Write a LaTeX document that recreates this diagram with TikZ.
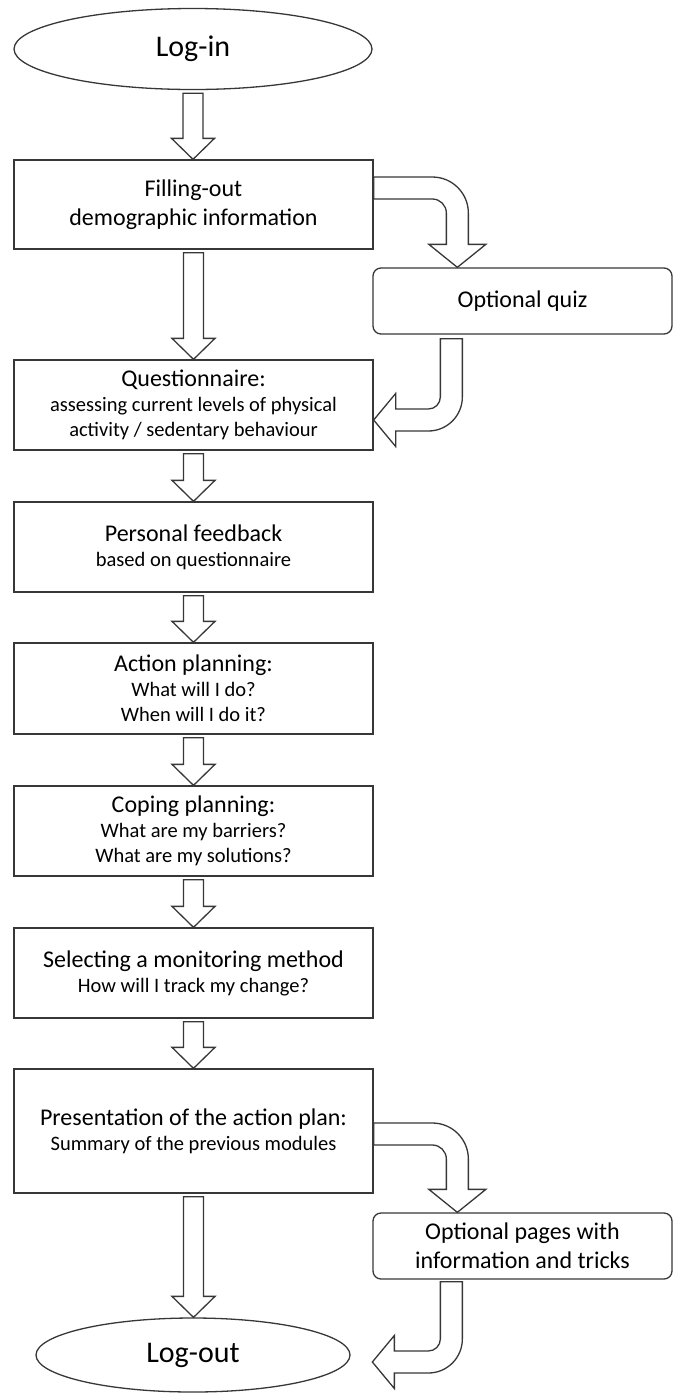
\documentclass[tikz,border=0pt]{standalone}
\usepackage{fontspec}
\setmainfont{Carlito}
\usepackage{tikz}
\usetikzlibrary{shapes.geometric,calc}
\definecolor{lineGray}{RGB}{55,55,55}

\newcommand{\headFont}{\fontsize{24}{29}\selectfont}
\newcommand{\subFont}{\fontsize{20.5}{25}\selectfont}

% straight block arrow: from below #1 down to the top of #2
\newcommand{\stepArrow}[2]{%
  \draw[blockArrow] let \p1=($(#1.south)+(0,3)$), \p2=(#2.north) in
    (\x1-10pt,\y1) -- (\x1+10pt,\y1) -- (\x1+10pt,\y2+21pt) -- (\x1+21.5pt,\y2+21pt)
    -- (\x1,\y2) -- (\x1-21.5pt,\y2+21pt) -- (\x1-10pt,\y2+21pt) -- cycle;}
% block arrow going right, then bending down
\newcommand{\bendDown}[2]{%
  \draw[blockArrow] let \p1=(#1), \p2=(#2) in
    (\x1,\y1+11pt) -- (\x2-25pt,\y1+11pt) arc[start angle=90,end angle=0,radius=36pt]
    -- (\x2+11pt,\y2+23pt) -- (\x2+28.5pt,\y2+23pt) -- (\x2,\y2) -- (\x2-28.5pt,\y2+23pt)
    -- (\x2-11pt,\y2+23pt) -- (\x2-11pt,\y1-25pt) arc[start angle=0,end angle=90,radius=14pt]
    -- (\x1,\y1-11pt) -- cycle;}
% block arrow going down, then bending left
\newcommand{\bendLeft}[2]{%
  \draw[blockArrow] let \p1=(#1), \p2=(#2) in
    (\x1-11pt,\y1) -- (\x1-11pt,\y2+23pt) arc[start angle=0,end angle=-90,radius=12pt]
    -- (\x2+22pt,\y2+11pt) -- (\x2+22pt,\y2+26.5pt) -- (\x2,\y2) -- (\x2+22pt,\y2-26.5pt)
    -- (\x2+22pt,\y2-11pt) -- (\x1-23pt,\y2-11pt) arc[start angle=-90,end angle=0,radius=34pt]
    -- (\x1+11pt,\y1) -- cycle;}

\begin{document}
\begin{tikzpicture}[x=1pt,y=-1pt,
    stageBox/.style={draw=lineGray, line width=1.3pt, minimum width=359pt,
      inner sep=0pt, align=center, font=\headFont},
    optBox/.style={stageBox, rounded corners=8pt, minimum width=299pt,
      minimum height=66pt},
    endOval/.style={ellipse, draw=lineGray, line width=1.3pt, inner sep=0pt,
      font=\fontsize{30}{36}\selectfont},
    blockArrow/.style={draw=lineGray, line width=1.3pt, fill=white, line join=miter}]
  \useasboundingbox (0,0) rectangle (673,1393);
  % Main column
  \node[endOval, minimum width=358pt, minimum height=81pt] (login) at (193,49) {Log-in};
  \node[stageBox, minimum height=89pt] (fill) at (193.5,204.5)
    {Filling-out\\demographic information};
  \node[stageBox, minimum height=90pt] (quest) at (193.5,405)
    {Questionnaire:\\[-4pt]\subFont assessing current levels of physical\\[-4pt]\subFont activity / sedentary behaviour};
  \node[stageBox, minimum height=90pt] (feedback) at (193.5,547)
    {Personal feedback\\[-4pt]\subFont based on questionnaire};
  \node[stageBox, minimum height=91pt] (action) at (193.5,688.5)
    {Action planning:\\[-4pt]\subFont What will I do?\\[-4pt]\subFont When will I do it?};
  \node[stageBox, minimum height=90pt] (coping) at (193.5,831)
    {Coping planning:\\[-4pt]\subFont What are my barriers?\\[-4pt]\subFont What are my solutions?};
  \node[stageBox, minimum height=90pt] (select) at (193.5,973)
    {Selecting a monitoring method\\[-4pt]\subFont How will I track my change?};
  \node[stageBox, minimum height=124pt] (present) at (193.5,1131)
    {Presentation of the action plan:\\[-4pt]\subFont Summary of the previous modules};
  \node[endOval, minimum width=314pt, minimum height=74pt] (logout) at (193,1355) {Log-out};
  % Optional side steps
  \node[optBox] (quiz) at (522.5,301) {Optional quiz};
  \node[optBox] (pages) at (522.5,1246) {Optional pages with\\information and tricks};
  \coordinate (logoutIn) at ($(pages.west |- logout.east)+(0,7)$);
  % Arrows
  \stepArrow{login}{fill}
  \stepArrow{fill}{quest}
  \stepArrow{quest}{feedback}
  \stepArrow{feedback}{action}
  \stepArrow{action}{coping}
  \stepArrow{coping}{select}
  \stepArrow{select}{present}
  \stepArrow{present}{logout}
  \bendDown{$(fill.east)+(0,-16.5)$}{$(quiz.north west)+(85,0)$}
  \bendLeft{$(quiz.south west)+(79,4)$}{$(quest.east)+(0,15)$}
  \bendDown{$(present.east)+(0,3)$}{$(pages.north west)+(85,0)$}
  \bendLeft{$(pages.south west)+(79,2)$}{logoutIn}
\end{tikzpicture}
\end{document}
